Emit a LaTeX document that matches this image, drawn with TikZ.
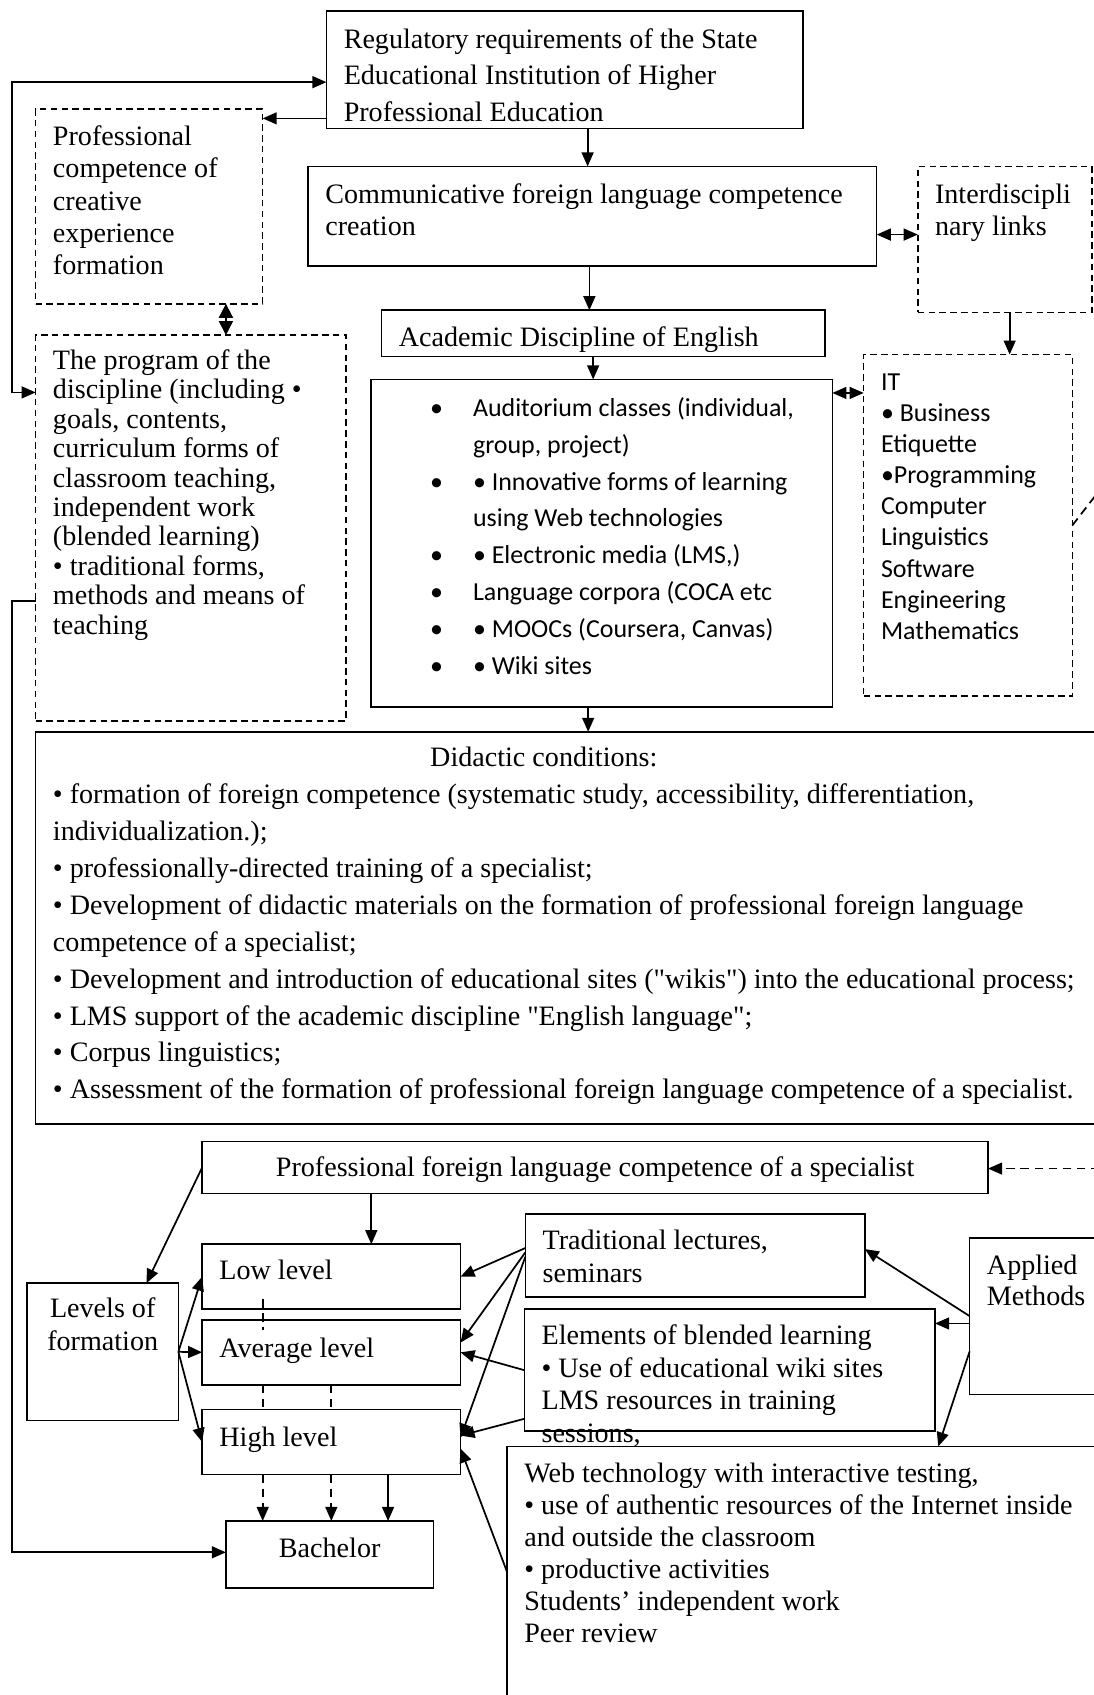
\documentclass[tikz,border=0pt]{standalone}
\usepackage{fontspec}
\setmainfont{Liberation Serif}
\newfontfamily\calibri{Carlito}
\usetikzlibrary{arrows.meta}

\newcommand\lb{\leavevmode\llap{\makebox[19.9pt][l]{•}}}
\newcommand\bx[5][\raggedright]{\parbox[t][\dimexpr#3pt/2\relax][t]{\dimexpr#2pt/2-16pt\relax}{#1\hyphenpenalty=10000\rule{0pt}{\dimexpr#4pt+1.5pt\relax}\ignorespaces#5}}

\begin{document}
\begin{tikzpicture}[x=0.5pt, y=-0.5pt,
    box/.style={draw, line width=0.7pt, anchor=north west, inner xsep=8pt, inner ysep=0pt, outer sep=0pt, font=\fontsize{13}{#1}\selectfont},
    box/.default=15,
    dbox/.style={box=#1, dash pattern=on 3pt off 2pt},
    dbox/.default=15,
    cbox/.style={box, font=\calibri\fontsize{12}{#1}\selectfont},
    cbox/.default=15,
    dcbox/.style={cbox=#1, dash pattern=on 3pt off 2pt},
    arr/.style={-{Triangle[length=6.5pt,width=5.5pt]}, line width=0.8pt},
    biarr/.style={{Triangle[length=6.5pt,width=5.5pt]}-{Triangle[length=6.5pt,width=5.5pt]}, line width=0.8pt},
    diam/.style={{Triangle[length=6.5pt,width=6.5pt]}-{Triangle[length=6.5pt,width=6.5pt]}, line width=0.8pt},
    dline/.style={line width=0.8pt, dash pattern=on 4pt off 2.5pt}]
    \useasboundingbox (0,0) rectangle (1012,1568);
    \clip (0,0) rectangle (1012,1568);

    \node[box=16.9] (reg) at (302,10) {\bx{441}{109}{15.75}{Regulatory requirements of the State\\Educational Institution of Higher\\Professional Education}};
    \node[dbox=14.9] (prof) at (33,101) {\bx{210}{180}{15.4}{Professional\\competence of\\creative\\experience\\formation}};
    \node[box] (comm) at (285,154) {\bx{526}{92}{15.4}{Communicative foreign language competence\\creation}};
    \node[dbox] (inter) at (849,154) {\bx{161}{135}{15.4}{Interdiscipli\\nary links}};
    \node[box] (acad) at (353,287) {\bx{410}{43}{15.25}{Academic Discipline of English}};
    \node[cbox=17] (forms) at (343,351) {\bx{427}{303}{15.75}{\leftskip=39.3pt\lb Auditorium classes (individual,\\group, project)\par
        \lb • Innovative forms of learning\\using Web technologies\par
        \lb • Electronic media (LMS,)\par
        \lb Language corpora (COCA etc\par
        \lb • MOOCs (Coursera, Canvas)\par
        \lb • Wiki sites}};
    \node[dcbox=14.4] (links) at (799,328) {\bx{193}{316}{15}{IT\\• Business\\Etiquette\\•Programming\\Computer\\Linguistics\\Software\\Engineering\\Mathematics}};
    \node[dbox=13.6] (prog) at (33,310) {\bx{287}{357}{14.4}{The program of the\\discipline (including •\\goals, contents,\\curriculum forms of\\classroom teaching,\\independent work\\(blended learning)\\• traditional forms,\\methods and means of\\teaching}};
    \node[box=17.1] (did) at (33,677) {\bx{1047}{363}{14.4}{\hspace*{174.5pt}Didactic conditions:\\
        • formation of foreign competence (systematic study, accessibility, differentiation,\\
        individualization.);\\
        • professionally-directed training of a specialist;\\
        • Development of didactic materials on the formation of professional foreign language\\
        competence of a specialist;\\
        • Development and introduction of educational sites (\textquotedbl wikis\textquotedbl) into the educational process;\\
        • LMS support of the academic discipline \textquotedbl English language\textquotedbl;\\
        • Corpus linguistics;\\
        • Assessment of the formation of professional foreign language competence of a specialist.}};

    \node[box] (pflc) at (187,1056) {\bx[\centering]{727}{48}{14.5}{Professional foreign language competence of a specialist}};
    \node[box=15.4] (levels) at (25,1187) {\bx[\centering]{140}{127}{14.4}{Levels of\\formation}};
    \node[box] (low) at (187,1151) {\bx{239}{60}{14.9}{Low level}};
    \node[box] (avg) at (187,1221) {\bx{239}{60}{15.7}{Average level}};
    \node[box] (high) at (187,1304) {\bx{239}{60}{15.5}{High level}};
    \node[box] (bach) at (209,1407) {\bx[\centering]{192}{62}{15.5}{Bachelor}};
    \node[box] (trad) at (486,1123) {\bx{314}{77}{15}{Traditional lectures,\\seminars}};
    \node[box] (blend) at (485,1211) {\bx{380}{113}{15}{Elements of blended learning\\• Use of educational wiki sites\\LMS resources in training\\sessions,}};
    \node[box=14.5] (applied) at (897,1145) {\bx{160}{145}{15.5}{Applied\\Methods}};
    \node[box=14.85, fill=white] (web) at (469,1338) {\bx{600}{300}{15}{Web technology with interactive testing,\\• use of authentic resources of the Internet inside\\and outside the classroom\\• productive activities\\Students’ independent work\\Peer review}};

    \coordinate (lt) at (11,76);
    \coordinate (lb) at (11,363);
    \coordinate (lm) at (11,556);
    \coordinate (lbot) at (11,1436);
    \coordinate (offtop) at (1030,437);
    \coordinate (offbot) at (1030,1081);

    \draw[biarr] (reg.west |- lt) -- (lt) -- (lb) -- (prog.west |- lb);
    \draw[arr] (prog.west |- lm) -- (lm) -- (lbot) -- (bach.west |- lbot);
    \draw[arr] ([yshift=-22.5pt]reg.west) -- ([yshift=-22.5pt]reg.west -| prof.east);
    \draw[arr] ([xshift=-2.2pt]comm.north |- reg.south) -- ([xshift=-2.2pt]comm.north);
    \draw[biarr] ([yshift=-8.5pt]comm.east) -- ([yshift=-8.5pt]comm.east -| inter.west);
    \draw[arr] ([xshift=-1.4pt]comm.south) -- ([xshift=-1.4pt]comm.south |- acad.north);
    \draw[arr] ([xshift=-3.9pt]forms.north |- acad.south) -- ([xshift=-3.9pt]forms.north);
    \draw[biarr] ([yshift=69.5pt]forms.east) -- ([yshift=69.5pt]forms.east -| links.west);
    \draw[arr] ([xshift=2.25pt]inter.south) -- ([xshift=2.25pt]inter.south |- links.north);
    \draw[diam] ([xshift=35.5pt]prof.south) -- ([xshift=35.5pt]prof.south |- prog.north);
    \draw[arr] ([xshift=-6.2pt]forms.south) -- ([xshift=-6.2pt]forms.south |- did.north);
    \draw[dline] (links.east) -- (offtop);
    \draw[dline, arr] (offbot) -- (offbot -| pflc.east);

    \draw[arr] (pflc.west) -- ([xshift=-14.75pt]levels.north east);
    \draw[arr] ([xshift=18.5pt]low.north |- pflc.south) -- ([xshift=18.5pt]low.north);
    \foreach \lv in {low,avg,high}
        \draw[arr] (levels.east) -- (\lv.west);
    \draw[dline] ([xshift=-31.75pt,yshift=4.5pt]low.south) -- ([xshift=-31.75pt,yshift=-4.5pt]avg.north);
    \foreach \dx in {-31.75,0}
        \draw[dline] ([xshift=\dx pt]avg.south) -- ([xshift=\dx pt]high.north);
    \foreach \dx in {-31.75,0}
        \draw[dline, arr] ([xshift=\dx pt]high.south) -- ([xshift=\dx pt]high.south |- bach.north);
    \draw[arr] ([xshift=26.25pt]high.south) -- ([xshift=26.25pt]high.south |- bach.north);

    \draw[arr] ([yshift=3.5pt]trad.west) -- (low.east);
    \draw[arr] ([yshift=1.5pt]trad.west) -- ([yshift=4.5pt]avg.east);
    \draw[arr] ([yshift=-0.5pt]trad.west) -- ([yshift=2pt]high.east);
    \draw[arr] (blend.west) -- (avg.east);
    \draw[arr] ([yshift=-22.5pt]blend.west) -- ([yshift=3pt]high.east);
    \draw[arr] ([yshift=-58pt]web.north west) -- ([yshift=-3pt]high.east);
    \draw[arr] (applied.west) -- ([yshift=3pt]trad.east);
    \draw[arr] ([yshift=-3.4pt]applied.west) -- ([yshift=-3.4pt]applied.west -| blend.east);
    \draw[arr] ([yshift=-16.25pt]applied.west) -- ([xshift=199.5pt]web.north west);
\end{tikzpicture}
\end{document}
